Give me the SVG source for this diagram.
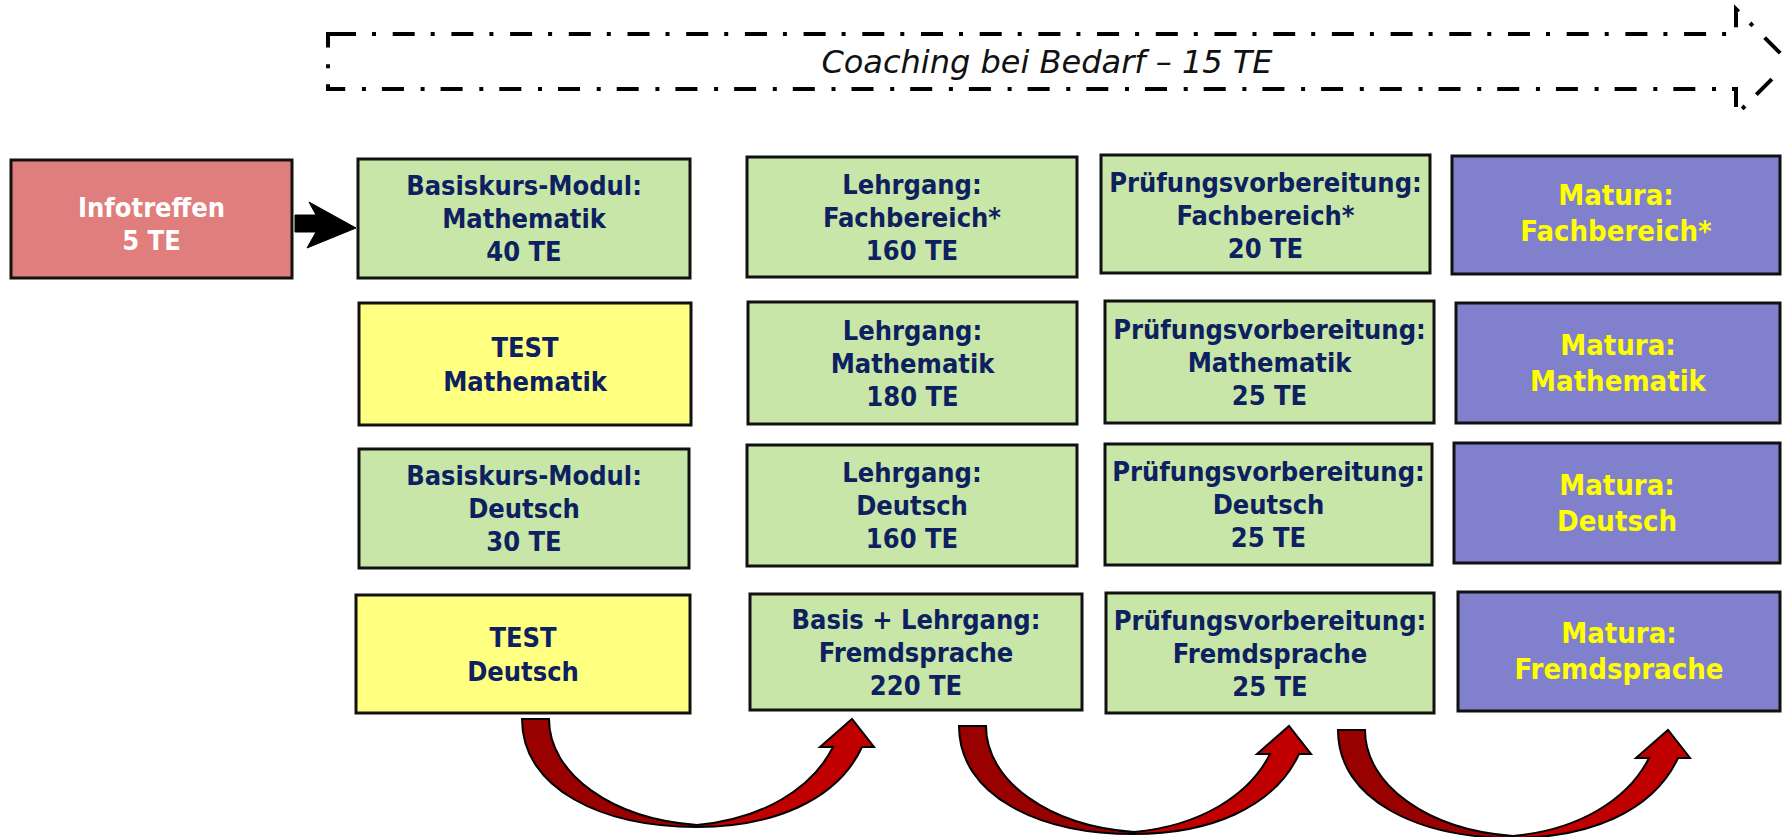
<svg xmlns="http://www.w3.org/2000/svg" width="1782" height="837" viewBox="0 0 1782 837">
<defs>
<style>
.box{stroke:#111;stroke-width:3}
.g{fill:#c8e6a8}
.y{fill:#ffff80}
.p{fill:#8080cc}
.r{fill:#e07e7e}
text{font-family:"DejaVu Sans Condensed","DejaVu Sans",sans-serif;font-weight:bold;text-anchor:middle}
.t{fill:#0d2160;font-size:27px}
.w{fill:#ffffff;font-size:27px}
.m{fill:#ffff00;font-size:29px}
.coach{font-family:"DejaVu Sans",sans-serif;font-weight:normal;font-style:italic;font-size:32px;fill:#111}
.curve{stroke:#000;stroke-width:2;fill:url(#cg)}
</style>
<linearGradient id="cg" gradientUnits="userSpaceOnUse" x1="0" y1="0" x2="352" y2="0">
<stop offset="0" stop-color="#990000"/>
<stop offset="0.5" stop-color="#990000"/>
<stop offset="0.5" stop-color="#c00000"/>
<stop offset="1" stop-color="#c00000"/>
</linearGradient>
</defs>
<rect width="1782" height="837" fill="#fff"/>

<g id="coaching">
<path d="M334,34 H1736 V9 L1789,62 L1736,115 V89 H328 V34 Z" fill="none" stroke="#000" stroke-width="4" stroke-dasharray="22 16 4 16.7"/>
<text class="coach" x="1047" y="73">Coaching bei Bedarf – 15 TE</text>
</g>

<g id="infotreffen">
<rect class="box r" x="11" y="160" width="281" height="118"/>
<text class="w" x="151.5" y="217">Infotreffen</text>
<text class="w" x="151.5" y="250">5 TE</text>
</g>

<g id="basis-mathe">
<rect class="box g" x="358" y="159" width="332" height="119"/>
<text class="t" x="524" y="195">Basiskurs-Modul:</text>
<text class="t" x="524" y="228">Mathematik</text>
<text class="t" x="524" y="261">40 TE</text>
</g>
<g id="test-mathe">
<rect class="box y" x="359" y="303" width="332" height="122"/>
<text class="t" x="525" y="357">TEST</text>
<text class="t" x="525" y="391">Mathematik</text>
</g>
<g id="basis-deutsch">
<rect class="box g" x="359" y="449" width="330" height="119"/>
<text class="t" x="524" y="485">Basiskurs-Modul:</text>
<text class="t" x="524" y="518">Deutsch</text>
<text class="t" x="524" y="551">30 TE</text>
</g>
<g id="test-deutsch">
<rect class="box y" x="356" y="595" width="334" height="118"/>
<text class="t" x="523" y="647">TEST</text>
<text class="t" x="523" y="681">Deutsch</text>
</g>

<g id="lehrgang-fach">
<rect class="box g" x="747" y="157" width="330" height="120"/>
<text class="t" x="912" y="194">Lehrgang:</text>
<text class="t" x="912" y="227">Fachbereich*</text>
<text class="t" x="912" y="260">160 TE</text>
</g>
<g id="lehrgang-mathe">
<rect class="box g" x="748" y="302" width="329" height="122"/>
<text class="t" x="912.5" y="340">Lehrgang:</text>
<text class="t" x="912.5" y="373">Mathematik</text>
<text class="t" x="912.5" y="406">180 TE</text>
</g>
<g id="lehrgang-deutsch">
<rect class="box g" x="747" y="445" width="330" height="121"/>
<text class="t" x="912" y="482">Lehrgang:</text>
<text class="t" x="912" y="515">Deutsch</text>
<text class="t" x="912" y="548">160 TE</text>
</g>
<g id="lehrgang-fremd">
<rect class="box g" x="750" y="594" width="332" height="116"/>
<text class="t" x="916" y="629">Basis + Lehrgang:</text>
<text class="t" x="916" y="662">Fremdsprache</text>
<text class="t" x="916" y="695">220 TE</text>
</g>

<g id="pv-fach">
<rect class="box g" x="1101" y="155" width="329" height="118"/>
<text class="t" x="1265.5" y="192">Prüfungsvorbereitung:</text>
<text class="t" x="1265.5" y="225">Fachbereich*</text>
<text class="t" x="1265.5" y="258">20 TE</text>
</g>
<g id="pv-mathe">
<rect class="box g" x="1105" y="301" width="329" height="122"/>
<text class="t" x="1269.5" y="339">Prüfungsvorbereitung:</text>
<text class="t" x="1269.5" y="372">Mathematik</text>
<text class="t" x="1269.5" y="405">25 TE</text>
</g>
<g id="pv-deutsch">
<rect class="box g" x="1105" y="444" width="327" height="121"/>
<text class="t" x="1268.5" y="481">Prüfungsvorbereitung:</text>
<text class="t" x="1268.5" y="514">Deutsch</text>
<text class="t" x="1268.5" y="547">25 TE</text>
</g>
<g id="pv-fremd">
<rect class="box g" x="1106" y="593" width="328" height="120"/>
<text class="t" x="1270" y="630">Prüfungsvorbereitung:</text>
<text class="t" x="1270" y="663">Fremdsprache</text>
<text class="t" x="1270" y="696">25 TE</text>
</g>

<g id="matura-fach">
<rect class="box p" x="1452" y="156" width="328" height="118"/>
<text class="m" x="1616" y="205">Matura:</text>
<text class="m" x="1616" y="241">Fachbereich*</text>
</g>
<g id="matura-mathe">
<rect class="box p" x="1456" y="303" width="324" height="120"/>
<text class="m" x="1618" y="355">Matura:</text>
<text class="m" x="1618" y="391">Mathematik</text>
</g>
<g id="matura-deutsch">
<rect class="box p" x="1454" y="443" width="326" height="120"/>
<text class="m" x="1617" y="495">Matura:</text>
<text class="m" x="1617" y="531">Deutsch</text>
</g>
<g id="matura-fremd">
<rect class="box p" x="1458" y="592" width="322" height="119"/>
<text class="m" x="1619" y="643">Matura:</text>
<text class="m" x="1619" y="679">Fremdsprache</text>
</g>

<g id="connectors">
<path d="M295,215 H316 L309,202 L356,228 L307,248 L316,232 H295 Z" fill="#000" stroke="#000" stroke-width="1"/>
<g transform="translate(522,719)">
<path class="curve" d="M0,0 H27 C27,55 90,100 175,106 C240,100 290,70 311,28 H298 L330,0 L352,28 H340 C315,82 250,108 175,108 C80,108 0,70 0,0 Z"/>
</g>
<g transform="translate(959,726)">
<path class="curve" d="M0,0 H27 C27,55 90,100 175,106 C240,100 290,70 311,28 H298 L330,0 L352,28 H340 C315,82 250,108 175,108 C80,108 0,70 0,0 Z"/>
</g>
<g transform="translate(1338,730)">
<path class="curve" d="M0,0 H27 C27,55 90,100 175,106 C240,100 290,70 311,28 H298 L330,0 L352,28 H340 C315,82 250,108 175,108 C80,108 0,70 0,0 Z"/>
</g>
</g>
</svg>
